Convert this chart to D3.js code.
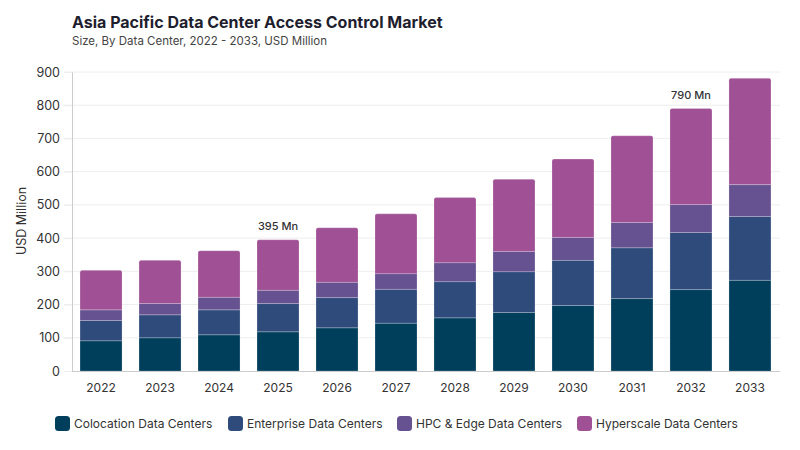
<!DOCTYPE html>
<html>
<head>
<meta charset="utf-8">
<script src="https://cdn.jsdelivr.net/npm/d3@7"></script>
<style>
body { margin: 0; background: #fff; }
svg { font-family: Inter, "Open Sans", sans-serif; }
</style>
</head>
<body>
<svg id="chart" width="800" height="450"></svg>
<script>
// data
const years = ["2022","2023","2024","2025","2026","2027","2028","2029","2030","2031","2032","2033"]
const colocation = [91,100,109,118,130,144,160,176,197,218,245,273]
const enterprise = [61,69,75,85,91,102,109,123,136,153,172,192]
const hpcEdge = [32,34,38,40,46,47,57,61,69,76,84,96]
const hyperscale = [119,130,140,152,164,180,196,217,236,261,289,320]
const seriesNames = ["Colocation Data Centers","Enterprise Data Centers","HPC & Edge Data Centers","Hyperscale Data Centers"]
const colors = ["#003f5c","#2f4b7c","#665191","#a05195"]
const yTicks = [0,100,200,300,400,500,600,700,800,900]
const notes = [{year:"2025",label:"395 Mn"},{year:"2032",label:"790 Mn"}]

const svg = d3.select("#chart")
const mLeft = 72, mRight = 779, mTop = 72, mBottom = 371

const rows = years.map((y,i)=>({year:y, s0:colocation[i], s1:enterprise[i], s2:hpcEdge[i], s3:hyperscale[i]}))
const stack = d3.stack().keys(["s0","s1","s2","s3"])
const layers = stack(rows)

const x = d3.scaleBand().domain(years).range([mLeft,mRight]).paddingInner(0.288).paddingOuter(0.136)
const y = d3.scaleLinear().domain([0,900]).range([mBottom,mTop])

// title
svg.append("text").attr("x",72).attr("y",28)
    .attr("font-size","16px").attr("font-weight",700).attr("fill","#1e1e2e")
    .text("Asia Pacific Data Center Access Control Market")
svg.append("text").attr("x",72).attr("y",45)
    .attr("font-size","11.5px").attr("fill","#444")
    .text("Size, By Data Center, 2022 - 2033, USD Million")

// grid
svg.append("g").selectAll("line").data(yTicks.slice(1)).enter().append("line")
    .attr("x1",mLeft-8).attr("x2",mRight+1)
    .attr("y1",d=>y(d)).attr("y2",d=>y(d))
    .attr("stroke","#eeeeee")

// y axis
const yAxis = svg.append("g").attr("transform",`translate(${mLeft},0)`)
    .call(d3.axisLeft(y).tickValues(yTicks).tickSize(8).tickPadding(4))
yAxis.select(".domain").attr("stroke","#cccccc")
yAxis.selectAll(".tick line").attr("stroke","#eeeeee")
yAxis.selectAll("text").attr("font-size","12.5px").attr("fill","#333").attr("font-family","Inter, sans-serif")

svg.append("text")
    .attr("transform","translate(26,221) rotate(-90)")
    .attr("text-anchor","middle").attr("font-size","12.5px").attr("fill","#333")
    .text("USD Million")

// bars
const g = svg.append("g")
layers.forEach((layer,k)=>{
    g.append("g").selectAll("path").data(layer).enter().append("path")
        .attr("fill",colors[k])
        .attr("stroke","rgba(255,255,255,0.35)").attr("stroke-width",0.6)
        .attr("d",d=>{
            const x0 = x(d.data.year), w = x.bandwidth()
            const y0 = y(d[0]), y1 = y(d[1])
            const r = k==3 ? 2 : 0
            return `M${x0},${y0}V${y1+r}Q${x0},${y1} ${x0+r},${y1}H${x0+w-r}Q${x0+w},${y1} ${x0+w},${y1+r}V${y0}Z`
        })
})

// x axis
const xAxis = svg.append("g").attr("transform",`translate(0,${mBottom})`)
    .call(d3.axisBottom(x).tickSize(0).tickPadding(12))
xAxis.select(".domain").attr("stroke","#cccccc").attr("d",`M${mLeft},0.5H${mRight+1}`)
xAxis.selectAll("text").attr("font-size","12px").attr("fill","#333").attr("font-family","Inter, sans-serif")

// value notes
const totals = {}
rows.forEach(r=>{ totals[r.year] = r.s0+r.s1+r.s2+r.s3 })
svg.append("g").selectAll("text").data(notes).enter().append("text")
    .attr("x",d=>x(d.year)+x.bandwidth()/2)
    .attr("y",d=>y(totals[d.year])-10)
    .attr("text-anchor","middle").attr("font-size","11px").attr("font-weight",500).attr("fill","#333")
    .text(d=>d.label)

// legend
const legendX = [55,228,397,577]
const lg = svg.append("g").selectAll("g").data(seriesNames).enter().append("g")
    .attr("transform",(d,i)=>`translate(${legendX[i]},416)`)
lg.append("rect").attr("width",15).attr("height",15).attr("rx",3.5)
    .attr("fill",(d,i)=>colors[i])
lg.append("text").attr("x",19).attr("y",12).attr("font-size","12px").attr("fill","#333")
    .text(d=>d)
</script>
</body>
</html>
